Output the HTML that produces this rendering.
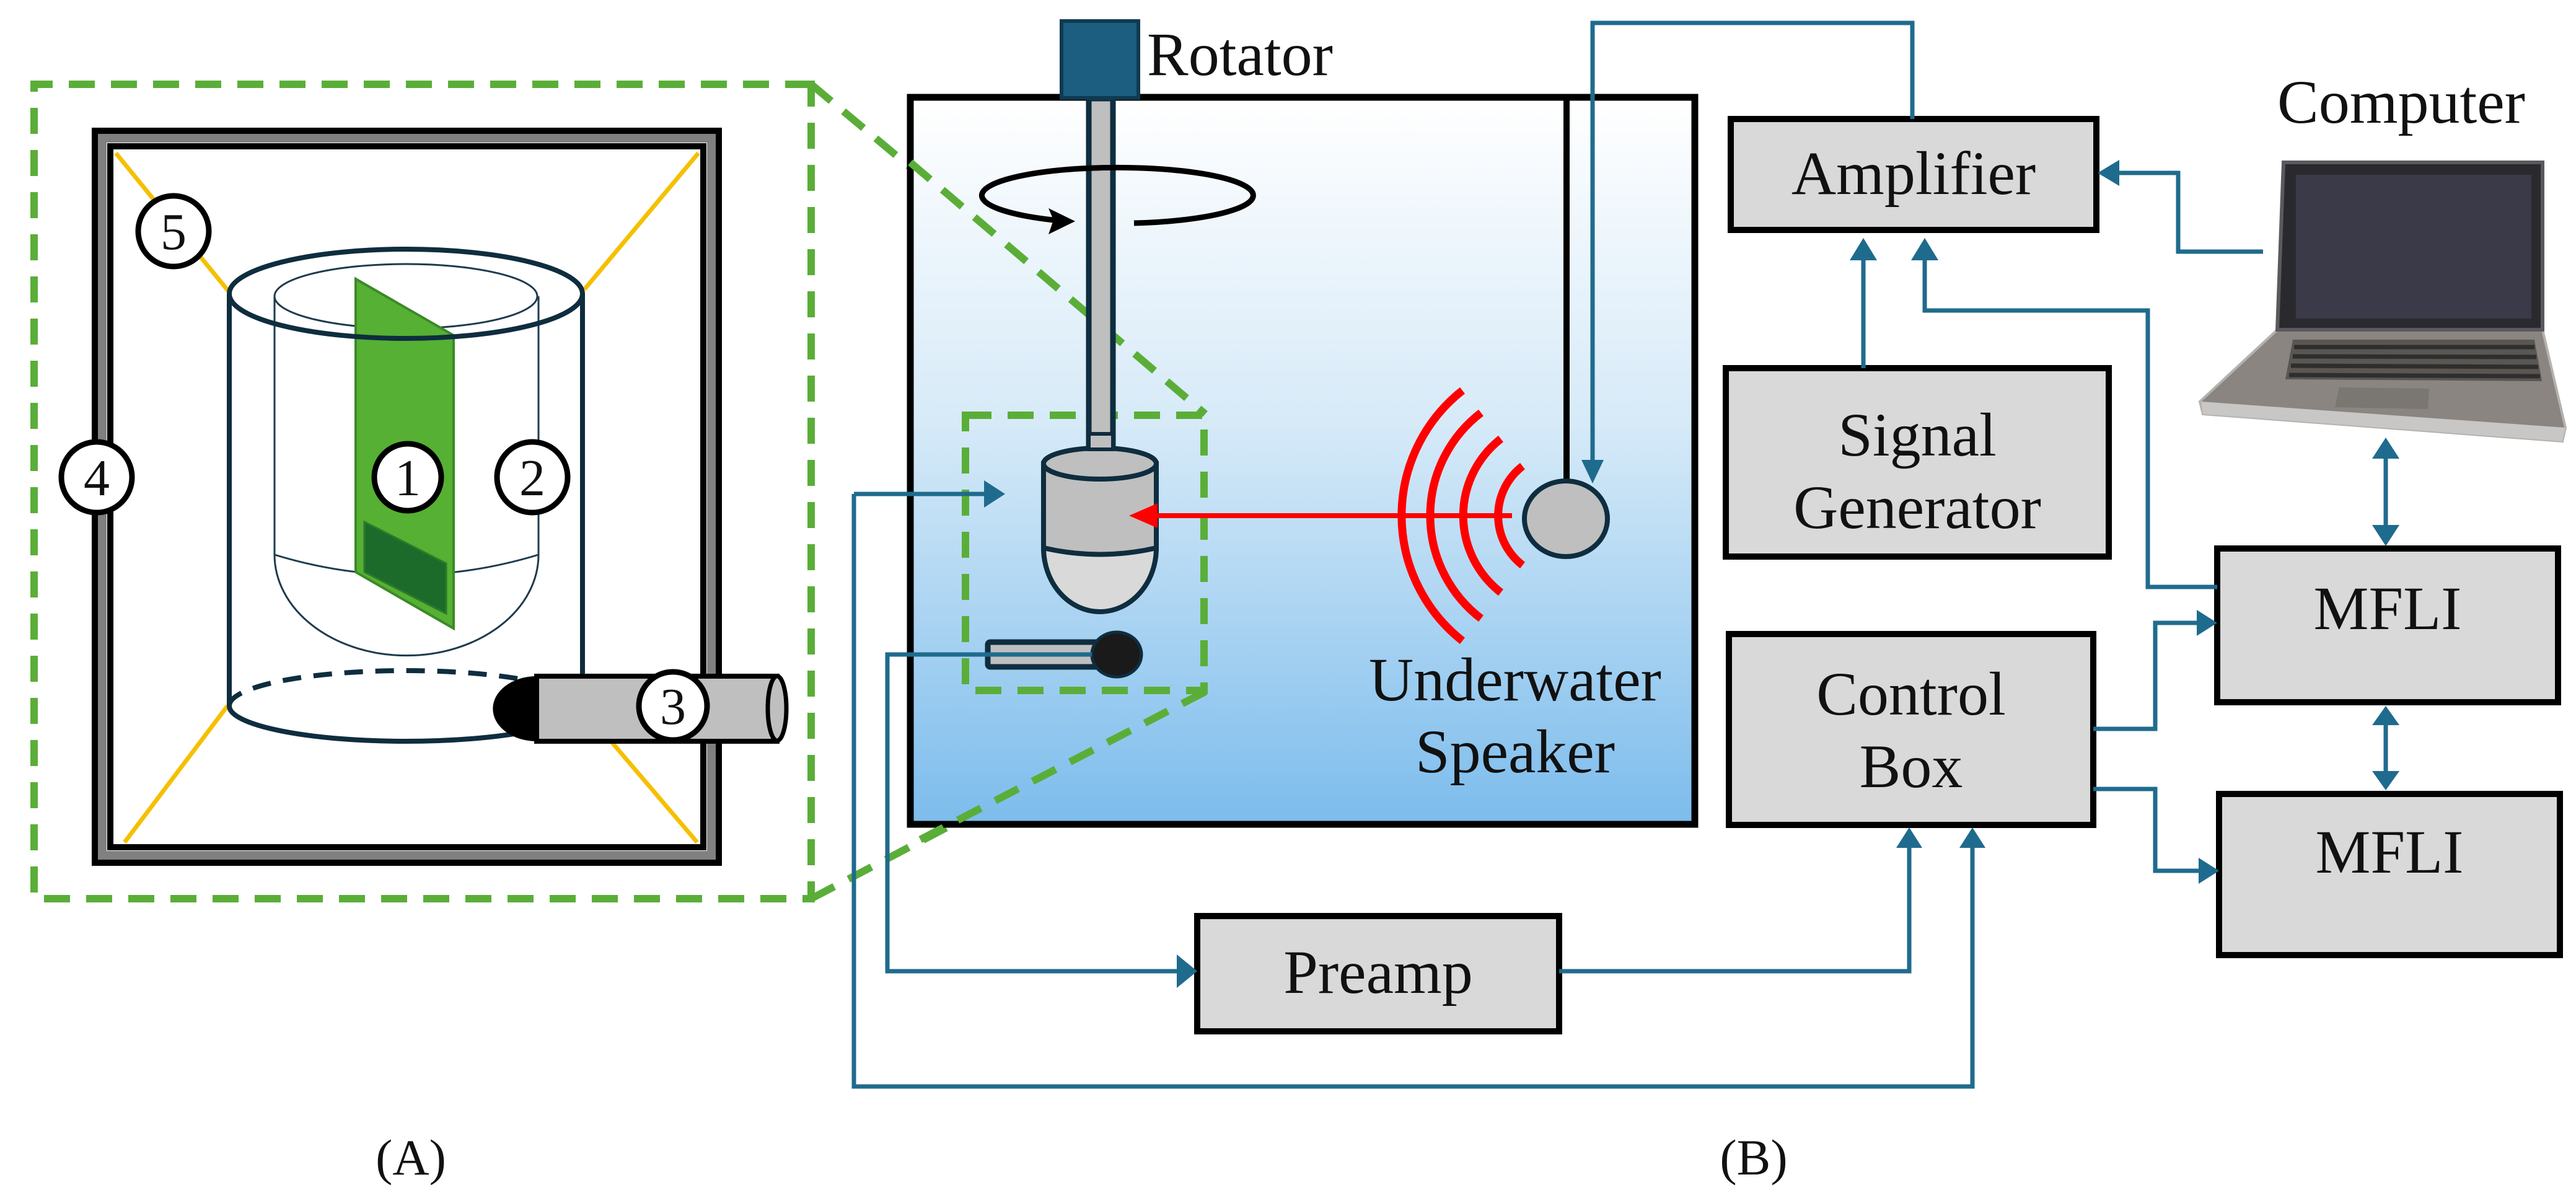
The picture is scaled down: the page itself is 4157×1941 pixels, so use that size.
<!DOCTYPE html>
<html><head><meta charset="utf-8"><style>
html,body{margin:0;padding:0;background:#fff;}
svg{display:block;}
svg text{font-family:"Liberation Serif","DejaVu Serif",serif !important;fill:#111;}
</style></head><body>
<svg width="4157" height="1941" viewBox="0 0 4157 1941" xmlns="http://www.w3.org/2000/svg" font-family="'Liberation Serif', 'DejaVu Serif', serif">
<defs>
<linearGradient id="water" x1="0" y1="0" x2="0" y2="1">
<stop offset="0" stop-color="#ffffff"/>
<stop offset="0.45" stop-color="#d6eaf8"/>
<stop offset="1" stop-color="#7cbcec"/>
</linearGradient>
</defs>

<!-- ===== Panel A ===== -->
<g fill="none" stroke="#5aae38" stroke-width="12" stroke-dasharray="42,26">
<path d="M1309,136 L55,136 L55,1450 L1309,1450 Z"/>
<line x1="1309" y1="136" x2="1945" y2="668"/>
<line x1="1309" y1="1450" x2="1945" y2="1116"/>
</g>
<rect x="153" y="211" width="1007" height="1181" fill="#fff" stroke="#000" stroke-width="10"/>
<rect x="165" y="223" width="983" height="1157" fill="none" stroke="#808080" stroke-width="14"/>
<rect x="178" y="236" width="957" height="1131" fill="#fff" stroke="#000" stroke-width="10"/>
<g stroke="#f5c000" stroke-width="7">
<line x1="187" y1="247" x2="368" y2="469"/>
<line x1="1127" y1="247" x2="943" y2="467"/>
<line x1="201" y1="1359" x2="367" y2="1139"/>
<line x1="1125" y1="1359" x2="986" y2="1196"/>
</g>
<g fill="none" stroke="#1e3b4d" stroke-width="3">
<ellipse cx="655" cy="478" rx="212" ry="52"/>
<line x1="443" y1="478" x2="443" y2="895"/>
<line x1="869" y1="478" x2="869" y2="895"/>
<path d="M443,895 Q655,960 869,895"/>
<path d="M443,895 A212,162 0 0 0 869,895"/>
</g>
<polygon points="574,450 732,541 732,1014 574,923" fill="#55b033" stroke="#3b8a26" stroke-width="4"/>
<polygon points="588,842 720,909 720,990 588,923" fill="#1c6b2a" stroke="#2d7a2a" stroke-width="3"/>
<g fill="none" stroke="#0e2d3f" stroke-width="8">
<ellipse cx="655" cy="474" rx="285" ry="72"/>
<line x1="370" y1="474" x2="370" y2="1139"/>
<line x1="940" y1="474" x2="940" y2="1090"/>
<path d="M370,1139 A285,57 0 0 0 940,1139"/>
<path d="M370,1139 A285,57 0 0 1 940,1139" stroke-dasharray="30,20"/>
</g>
<rect x="866" y="1091" width="388" height="105" fill="#bfbfbf" stroke="#000" stroke-width="8"/>
<ellipse cx="1254" cy="1143" rx="15" ry="52" fill="#bfbfbf" stroke="#000" stroke-width="7"/>
<path d="M866,1091 A70,52 0 0 0 866,1196 Z" fill="#000"/>
<g fill="#fff" stroke="#000" stroke-width="9">
<circle cx="280" cy="373" r="57"/>
<circle cx="156" cy="770" r="57"/>
<circle cx="658" cy="770" r="54"/>
<circle cx="859" cy="770" r="57"/>
<circle cx="1086" cy="1139" r="55"/>
</g>
<g font-size="84" text-anchor="middle">
<text x="280" y="402">5</text>
<text x="156" y="799">4</text>
<text x="658" y="799">1</text>
<text x="859" y="799">2</text>
<text x="1086" y="1168">3</text>
</g>
<text x="663" y="1895" font-size="82" text-anchor="middle">(A)</text>

<!-- ===== Panel B tank ===== -->
<rect x="1469" y="157" width="1266" height="1173" fill="url(#water)" stroke="#000" stroke-width="11"/>
<g fill="none" stroke="#5aae38" stroke-width="12" stroke-dasharray="42,26">
<rect x="1558" y="670" width="385" height="444"/>
<line x1="1469" y1="262" x2="1945" y2="668"/>
<line x1="1945" y1="1116" x2="1469" y2="1363"/>
</g>
<rect x="1757" y="159" width="39" height="566" fill="#bfbfbf" stroke="#0e2d3f" stroke-width="9"/>
<rect x="1713" y="34" width="124" height="124" fill="#1b5e80" stroke="#0f3a52" stroke-width="6"/>
<text x="1851" y="121" font-size="100">Rotator</text>
<path d="M1830,360 A219,45 0 1 0 1700,355" fill="none" stroke="#000" stroke-width="9"/>
<path d="M1700,355 L1692,336 L1735,357 L1692,378 Z" fill="#000"/>
<path d="M1684,870 L1684,884 A91,103 0 0 0 1866,884 L1866,870 Z" fill="#d9d9d9" stroke="#0e2d3f" stroke-width="8"/>
<path d="M1684,748 L1684,884 Q1775,905 1866,884 L1866,748 Z" fill="#bfbfbf" stroke="#0e2d3f" stroke-width="8"/>
<ellipse cx="1775" cy="748" rx="91" ry="25" fill="#bfbfbf" stroke="#0e2d3f" stroke-width="8"/>
<rect x="1757" y="700" width="39" height="25" fill="#bfbfbf" stroke="#0e2d3f" stroke-width="6"/>
<rect x="1594" y="1036" width="190" height="40" fill="#bfbfbf" stroke="#0e2d3f" stroke-width="9" rx="4"/>
<ellipse cx="1802" cy="1056" rx="40" ry="36" fill="#1a1a1a" stroke="#0e2d3f" stroke-width="5"/>
<line x1="2528" y1="159" x2="2528" y2="776" stroke="#000" stroke-width="10"/>
<g fill="none" stroke="#ff0000" stroke-width="13">
<path d="M2457,752 A101,101 0 0 0 2457,912"/>
<path d="M2422,708 A157,157 0 0 0 2422,956"/>
<path d="M2390,666 A209,209 0 0 0 2390,998"/>
<path d="M2360,630 A257,257 0 0 0 2360,1034"/>
</g>
<line x1="2440" y1="832" x2="1860" y2="832" stroke="#ff0000" stroke-width="8"/>
<path d="M1822,832 L1868,812 L1868,852 Z" fill="#ff0000"/>
<ellipse cx="2527" cy="837" rx="67" ry="61" fill="#bfbfbf" stroke="#0e2d3f" stroke-width="8"/>
<text x="2445" y="1130" font-size="100" text-anchor="middle">Underwater</text>
<text x="2445" y="1246" font-size="100" text-anchor="middle">Speaker</text>

<!-- ===== Boxes ===== -->
<g fill="#d9d9d9" stroke="#000" stroke-width="10">
<rect x="2793" y="192" width="590" height="179"/>
<rect x="2785" y="594" width="618" height="304"/>
<rect x="2790" y="1023" width="588" height="308"/>
<rect x="3578" y="885" width="550" height="248"/>
<rect x="3581" y="1281" width="550" height="260"/>
<rect x="1932" y="1478" width="584" height="186"/>
</g>
<g font-size="100" text-anchor="middle">
<text x="3088" y="313">Amplifier</text>
<text x="3094" y="735">Signal</text>
<text x="3094" y="852">Generator</text>
<text x="3084" y="1153">Control</text>
<text x="3084" y="1270">Box</text>
<text x="3853" y="1015">MFLI</text>
<text x="3856" y="1408">MFLI</text>
<text x="2224" y="1602">Preamp</text>
<text x="3875" y="198">Computer</text>
<text x="2830" y="1895" font-size="82">(B)</text>
</g>

<!-- laptop -->
<polygon points="3675,532 4103,532 4140,690 4135,712 3555,668 3550,648" fill="#8a8580" stroke="#b5b2ae" stroke-width="4"/>
<polygon points="3552,648 4140,690 4135,712 3555,668" fill="#c9c7c5"/>
<polygon points="3700,548 4090,548 4102,615 3688,612" fill="#5a5652"/>
<g stroke="#2e2e2e" stroke-width="7">
<line x1="3702" y1="560" x2="4090" y2="560"/>
<line x1="3700" y1="575" x2="4093" y2="576"/>
<line x1="3697" y1="590" x2="4096" y2="592"/>
<line x1="3694" y1="605" x2="4099" y2="607"/>
</g>
<polygon points="3775,625 3920,627 3918,660 3768,657" fill="#7a7672"/>
<polygon points="3685,262 4103,262 4103,532 3675,532" fill="#2a2a2e" stroke="#5a5a5e" stroke-width="6"/>
<rect x="3705" y="282" width="380" height="232" fill="#3a3a48"/>

<!-- ===== Blue connectors ===== -->
<g fill="none" stroke="#1f6b8e" stroke-width="7">
<polyline points="3086,192 3086,37 2570,37 2570,750"/>
<polyline points="3007,594 3007,410"/>
<polyline points="3578,947 3466,947 3466,501 3106,501 3106,410"/>
<polyline points="3652,406 3515,406 3515,279 3410,279"/>
<line x1="3850" y1="735" x2="3850" y2="852"/>
<line x1="3850" y1="1165" x2="3850" y2="1247"/>
<polyline points="3378,1176 3478,1176 3478,1005 3552,1005"/>
<polyline points="3378,1273 3478,1273 3478,1405 3555,1405"/>
<polyline points="1378,797 1595,797"/>
<polyline points="1378,797 1378,1753 3183,1753 3183,1362"/>
<polyline points="1762,1056 1432,1056 1432,1567 1905,1567"/>
<polyline points="2516,1567 3081,1567 3081,1362"/>
</g>
<g fill="#1f6b8e">
<path d="M2570,780 L2552,742 L2588,742 Z"/>
<path d="M3007,384 L2985,420 L3029,420 Z"/>
<path d="M3106,384 L3084,420 L3128,420 Z"/>
<path d="M3385,279 L3420,258 L3420,300 Z"/>
<path d="M3850,706 L3828,740 L3872,740 Z"/>
<path d="M3850,881 L3828,847 L3872,847 Z"/>
<path d="M3850,1139 L3828,1170 L3872,1170 Z"/>
<path d="M3850,1275 L3828,1244 L3872,1244 Z"/>
<path d="M3578,1005 L3545,984 L3545,1026 Z"/>
<path d="M3581,1405 L3548,1384 L3548,1426 Z"/>
<path d="M1622,797 L1588,775 L1588,819 Z"/>
<path d="M1932,1567 L1899,1540 L1899,1594 Z"/>
<path d="M3081,1335 L3060,1368 L3102,1368 Z"/>
<path d="M3183,1335 L3162,1368 L3204,1368 Z"/>
</g>
</svg>
</body></html>
